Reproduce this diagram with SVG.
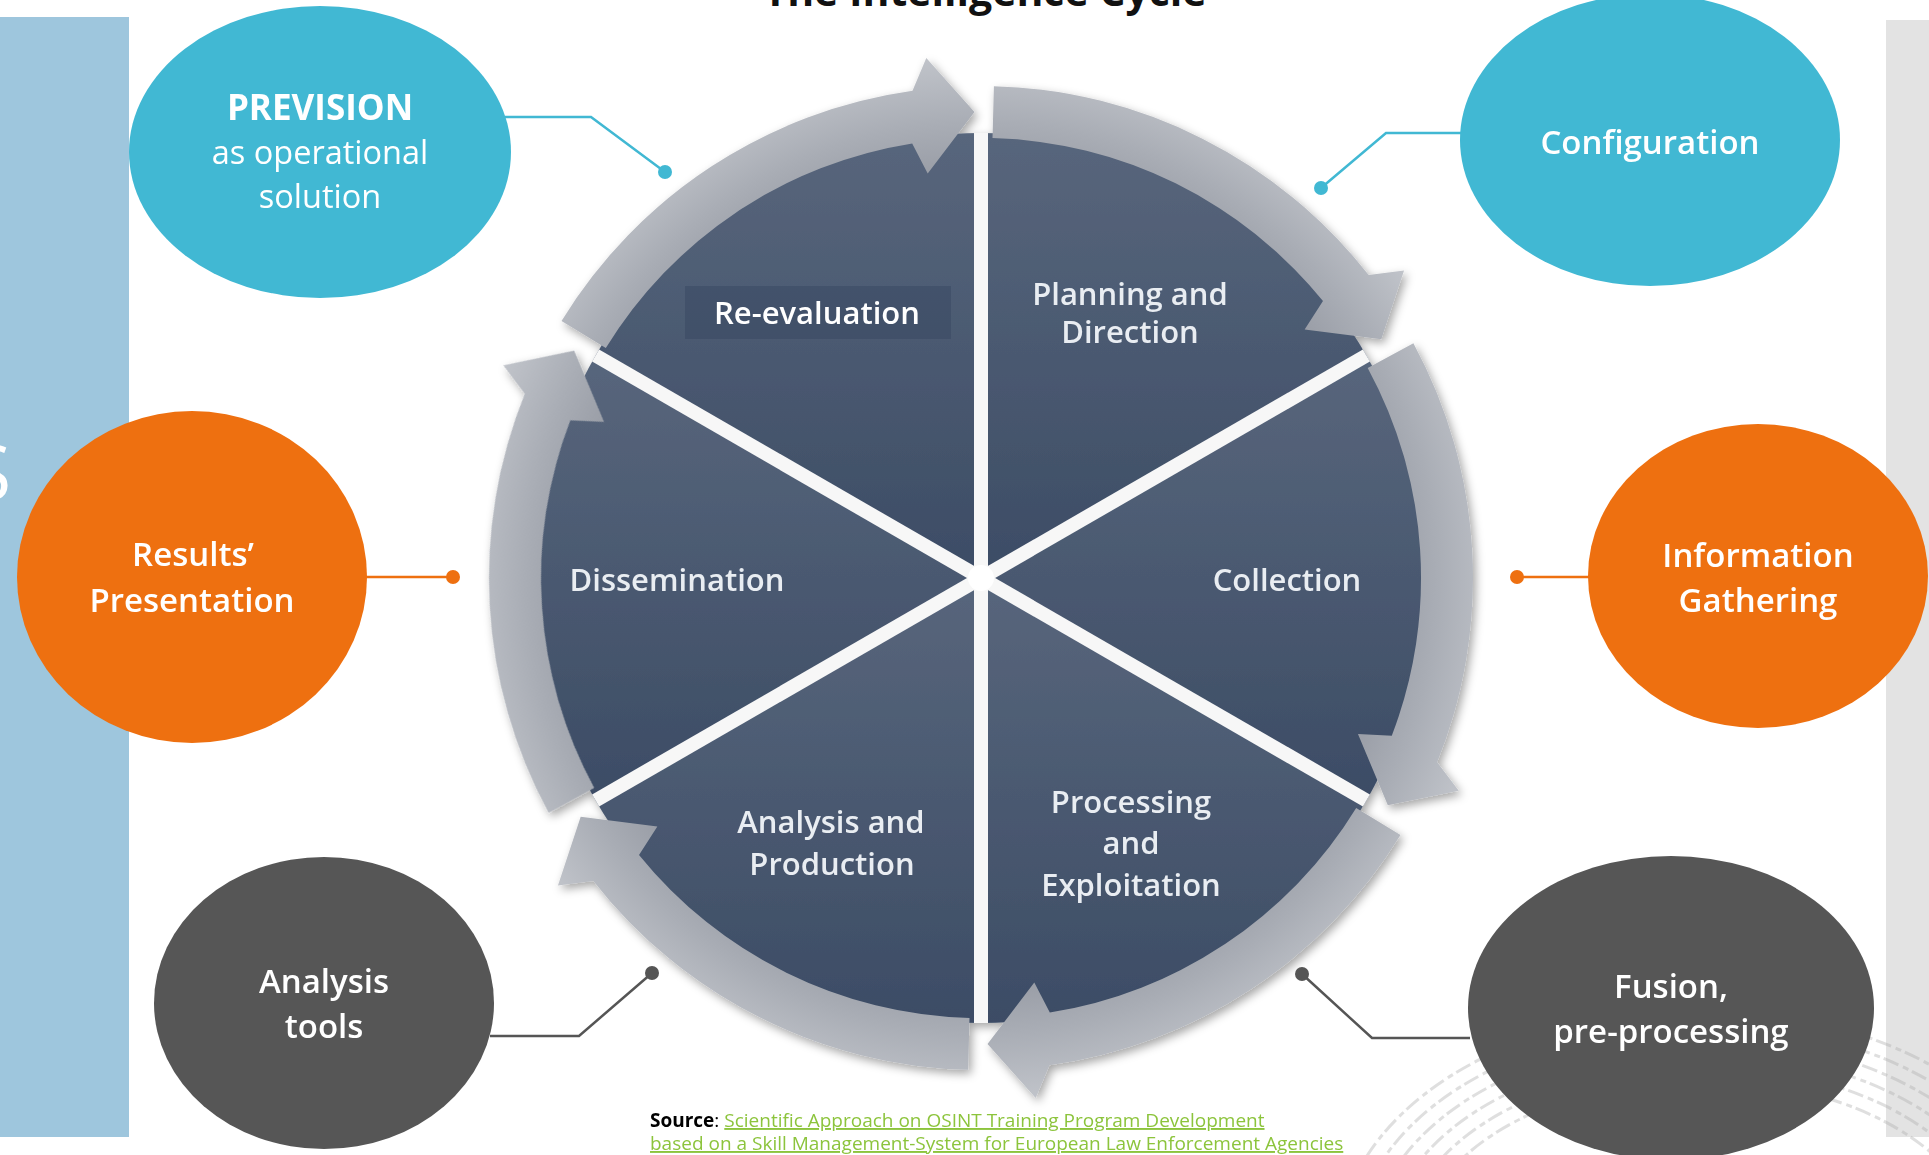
<svg xmlns="http://www.w3.org/2000/svg" xmlns:xlink="http://www.w3.org/1999/xlink" width="1929" height="1155" viewBox="0 0 1929 1155">
  <style>
    text { font-family: "Open Sans", "Noto Sans", "Liberation Sans", sans-serif; }
    .lbl { font-size: 33px; font-weight: 600; fill: #ffffff; text-anchor: middle; }
    .wl { font-size: 31px; font-weight: 600; fill: #E9EDF2; text-anchor: middle; }
    .conC { stroke: #41B8D3; fill: none; stroke-width: 2.5; }
    .conO { stroke: #EE7010; fill: none; stroke-width: 2.5; }
    .conG { stroke: #555555; fill: none; stroke-width: 2.5; }
    .src { font-size: 19px; }
    .fp { fill: none; stroke: #B0B0B0; stroke-width: 3; stroke-dasharray: 16 5 6 4; opacity: 0.4; }
  </style>
  <defs>
    <radialGradient id="ringGrad" cx="0" cy="0" r="530" gradientUnits="userSpaceOnUse">
      <stop offset="0.77" stop-color="#9A9EA7"/>
      <stop offset="0.86" stop-color="#A9ADB5"/>
      <stop offset="1" stop-color="#C3C6CC"/>
    </radialGradient>
    <linearGradient id="wedgeGrad" x1="0" y1="0" x2="0" y2="1">
      <stop offset="0" stop-color="#58667C"/>
      <stop offset="1" stop-color="#3C4C65"/>
    </linearGradient>
    <filter id="shadow" x="-20%" y="-20%" width="140%" height="140%">
      <feDropShadow dx="3" dy="4" stdDeviation="5" flood-color="#000000" flood-opacity="0.35"/>
    </filter>
    <path id="arrow" d="M-419.5,-257.1 A492,492 0 0 1 -68.5,-487.2 L-54.7,-520.1 L-6.5,-466 L-53.3,-404.5 L-68.8,-434.6 A440,440 0 0 0 -375.2,-229.9 Z" fill="url(#ringGrad)"/>
  </defs>

  <rect width="1929" height="1155" fill="#ffffff"/>

  <!-- side panels -->
  <g id="left-panel">
    <rect x="0" y="17" width="129" height="1120" fill="#9EC6DD"/>
    <text x="-31" y="500" font-size="77" fill="#ffffff">S</text>
  </g>
  <g id="right-panel">
    <rect x="1886" y="20" width="43" height="1117" fill="#E3E3E3"/>
  </g>

  <!-- fingerprint texture -->
  <g id="texture">
    <ellipse class="fp" cx="1700" cy="1250" rx="282" ry="170"/>
    <ellipse class="fp" cx="1700" cy="1250" rx="298" ry="184"/>
    <ellipse class="fp" cx="1700" cy="1250" rx="314" ry="198"/>
    <ellipse class="fp" cx="1700" cy="1250" rx="330" ry="212"/>
    <ellipse class="fp" cx="1700" cy="1250" rx="346" ry="226"/>
    <ellipse class="fp" cx="1700" cy="1250" rx="362" ry="240"/>
  </g>

  <!-- title (cut off at top) -->
  <text x="985" y="6" font-size="41" font-weight="700" fill="#111111" text-anchor="middle">The Intelligence Cycle</text>

  <!-- wheel -->
  <g id="wheel" filter="url(#shadow)">
    <g id="seg-reevaluation">
      <path d="M981,578 L595.6,355.5 A445,445 0 0 1 981,133 Z" fill="url(#wedgeGrad)"/>
    </g>
    <g id="seg-planning">
      <path d="M981,578 L981,133 A445,445 0 0 1 1366.4,355.5 Z" fill="url(#wedgeGrad)"/>
    </g>
    <g id="seg-collection">
      <path d="M981,578 L1366.4,355.5 A445,445 0 0 1 1366.4,800.5 Z" fill="url(#wedgeGrad)"/>
    </g>
    <g id="seg-processing">
      <path d="M981,578 L1366.4,800.5 A445,445 0 0 1 981,1023 Z" fill="url(#wedgeGrad)"/>
    </g>
    <g id="seg-analysis">
      <path d="M981,578 L981,1023 A445,445 0 0 1 595.6,800.5 Z" fill="url(#wedgeGrad)"/>
    </g>
    <g id="seg-dissemination">
      <path d="M981,578 L595.6,800.5 A445,445 0 0 1 595.6,355.5 Z" fill="url(#wedgeGrad)"/>
    </g>
    <use xlink:href="#arrow" href="#arrow" transform="translate(981 578)"/>
    <use xlink:href="#arrow" href="#arrow" transform="translate(981 578) rotate(60)"/>
    <use xlink:href="#arrow" href="#arrow" transform="translate(981 578) rotate(120)"/>
    <use xlink:href="#arrow" href="#arrow" transform="translate(981 578) rotate(180)"/>
    <use xlink:href="#arrow" href="#arrow" transform="translate(981 578) rotate(240)"/>
    <use xlink:href="#arrow" href="#arrow" transform="translate(981 578) rotate(300)"/>
  </g>
  <g id="wheel-gaps" stroke="#F7F7F7" stroke-width="14">
    <line x1="981" y1="133" x2="981" y2="1023"/>
    <line x1="595.6" y1="355.5" x2="1366.4" y2="800.5"/>
    <line x1="1366.4" y1="355.5" x2="595.6" y2="800.5"/>
    <circle cx="981" cy="578" r="13" fill="#ffffff" stroke="none"/>
  </g>

  <!-- wheel labels -->
  <g id="wheel-labels">
    <rect x="685" y="286" width="266" height="53" fill="#3A4862" opacity="0.55"/>
    <text x="817" y="324" font-size="31" font-weight="600" fill="#ffffff" text-anchor="middle">Re-evaluation</text>
    <text class="wl" x="1130" y="305">Planning and</text>
    <text class="wl" x="1130" y="343">Direction</text>
    <text class="wl" x="677" y="591">Dissemination</text>
    <text class="wl" x="1287" y="591">Collection</text>
    <text class="wl" x="831" y="833">Analysis and</text>
    <text class="wl" x="832" y="875">Production</text>
    <text class="wl" x="1131" y="813">Processing</text>
    <text class="wl" x="1131" y="854">and</text>
    <text class="wl" x="1131" y="896">Exploitation</text>
  </g>

  <!-- connectors -->
  <g id="connectors">
    <polyline class="conC" points="505,117 591,117 665,172"/>
    <circle cx="665" cy="172" r="7" fill="#41B8D3"/>
    <polyline class="conC" points="1462,133 1386,133 1321,188"/>
    <circle cx="1321" cy="188" r="7" fill="#41B8D3"/>
    <line class="conO" x1="365" y1="577" x2="453" y2="577"/>
    <circle cx="453" cy="577" r="7" fill="#EE7010"/>
    <line class="conO" x1="1591" y1="577" x2="1517" y2="577"/>
    <circle cx="1517" cy="577" r="7" fill="#EE7010"/>
    <polyline class="conG" points="490,1036 579,1036 652,973"/>
    <circle cx="652" cy="973" r="7" fill="#555555"/>
    <polyline class="conG" points="1470,1038 1372,1038 1302,974"/>
    <circle cx="1302" cy="974" r="7" fill="#555555"/>
  </g>

  <!-- nodes -->
  <g id="node-prevision">
    <ellipse cx="320" cy="152" rx="191" ry="146" fill="#41B8D3"/>
    <text x="320" y="120" font-size="35" font-weight="700" fill="#ffffff" text-anchor="middle">PREVISION</text>
    <text x="320" y="164" font-size="32.5" font-weight="400" fill="#ffffff" text-anchor="middle">as operational</text>
    <text x="320" y="208" font-size="32.5" font-weight="400" fill="#ffffff" text-anchor="middle">solution</text>
  </g>
  <g id="node-configuration">
    <ellipse cx="1650" cy="140" rx="190" ry="146" fill="#41B8D3"/>
    <text class="lbl" x="1650" y="154">Configuration</text>
  </g>
  <g id="node-results">
    <ellipse cx="192" cy="577" rx="175" ry="166" fill="#EE7010"/>
    <text class="lbl" x="193" y="566">Results’</text>
    <text class="lbl" x="192" y="612">Presentation</text>
  </g>
  <g id="node-information">
    <ellipse cx="1758" cy="576" rx="170" ry="152" fill="#EE7010"/>
    <text class="lbl" x="1758" y="567">Information</text>
    <text class="lbl" x="1758" y="612">Gathering</text>
  </g>
  <g id="node-analysis-tools">
    <ellipse cx="324" cy="1003" rx="170" ry="146" fill="#565656"/>
    <text class="lbl" x="324" y="993">Analysis</text>
    <text class="lbl" x="324" y="1038">tools</text>
  </g>
  <g id="node-fusion">
    <ellipse cx="1671" cy="1008" rx="203" ry="152" fill="#565656"/>
    <text class="lbl" x="1671" y="998">Fusion,</text>
    <text class="lbl" x="1671" y="1043">pre-processing</text>
  </g>

  <!-- source -->
  <g id="source">
    <text class="src" x="650" y="1127"><tspan font-weight="700" fill="#000000">Source</tspan><tspan fill="#000000">: </tspan><tspan fill="#8CC43C" text-decoration="underline">Scientific Approach on OSINT Training Program Development</tspan></text>
    <text class="src" x="650" y="1150" fill="#8CC43C" text-decoration="underline">based on a Skill Management-System for European Law Enforcement Agencies</text>
  </g>
</svg>
